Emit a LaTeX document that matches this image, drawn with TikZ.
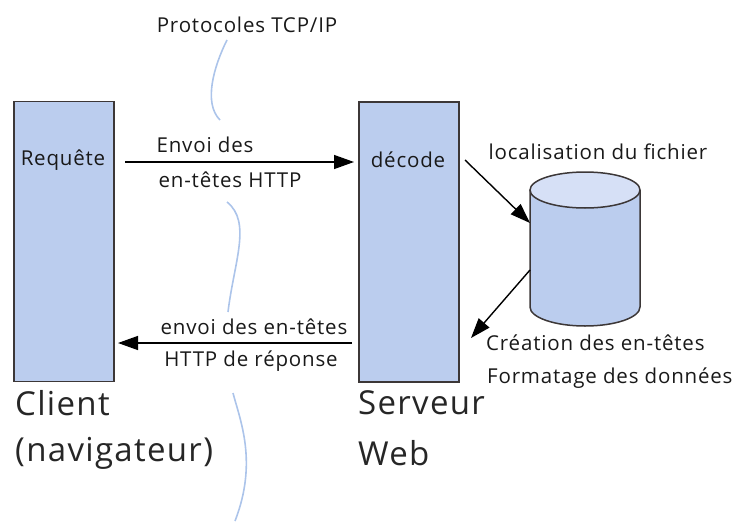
\documentclass[tikz,border=0pt]{standalone}
\usepackage{fontspec}
\setmainfont{Open Sans}[LetterSpace=4]
\usetikzlibrary{arrows.meta}
\definecolor{boxfill}{RGB}{187,205,238}
\definecolor{boxedge}{RGB}{60,55,55}
\definecolor{topfill}{RGB}{214,224,246}
\definecolor{wave}{RGB}{172,196,234}
\tikzset{
  machine/.style={draw=boxedge, line width=1.6pt, fill=boxfill, minimum width=100pt, minimum height=280pt, inner sep=0pt},
  lbl/.style={font=\fontsize{20.5}{22}\selectfont, inner sep=0pt, text=black!90},
  big/.style={font=\fontsize{33}{36}\selectfont, inner sep=0pt, text=black!85, anchor=west},
  flow/.style={line width=1.4pt, -{Triangle[length=20pt,width=14pt]}},
  wavy/.style={wave, line width=1.6pt}
}
\begin{document}
\begin{tikzpicture}[x=1pt,y=-1pt]
\useasboundingbox (0,0) rectangle (744,522);
% machines
\node[machine] (client) at (64,241.5) {};
\node[machine] (server) at (409,242) {};
\node[lbl] (req) at (63,160) {Requête};
\node[lbl] (dec) at (408,160) {décode};
% cylinder
\fill[boxfill] (530,190) -- (530,307) arc[start angle=180,end angle=360,x radius=55pt,y radius=19pt] -- (640,190) -- cycle;
\draw[boxedge, line width=1.5pt] (530,190) -- (530,307) arc[start angle=180,end angle=360,x radius=55pt,y radius=19pt] -- (640,190);
\draw[boxedge, line width=1.5pt, fill=topfill] (585,190) ellipse[x radius=55pt, y radius=18pt];
\coordinate (cylIn) at (530,223);
\coordinate (cylOut) at (530,270);
% arrows
\coordinate (a1s) at (125,162);
\coordinate (a1e) at (354,162);
\coordinate (a2s) at (352,343);
\coordinate (a2e) at (118,343);
\coordinate (d1s) at (465,160);
\coordinate (d2e) at (471,338);
\draw[flow] (a1s) -- (a1e);
\draw[flow] (a2s) -- (a2e);
\draw[flow] (d1s) -- (cylIn);
\draw[flow] (cylOut) -- (d2e);
% labels
\node[lbl] (l1) at (205,145) {Envoi des};
\node[lbl] (l2) at (230,180) {en-têtes HTTP};
\node[lbl] (l3) at (254,327) {envoi des en-têtes};
\node[lbl] (l4) at (251,361) {HTTP de réponse};
\node[lbl] (l5) at (598,152) {localisation du fichier};
\node[lbl, anchor=west] (l6) at (486,343) {Création des en-têtes};
\node[lbl, anchor=west] (l7) at (487,378) {Formatage des données};
\node[lbl] (tcp) at (247,25) {Protocoles TCP/IP};
\node[big] (c1) at (15,403) {Client};
\node[big] (c2) at (15,453) {(navigateur)};
\node[big] (s1) at (358,403) {Serveur};
\node[big] (s2) at (358,453) {Web};
% protocol wave
\draw[wavy] (227,40) .. controls (214,66) and (203,103) .. (220,120);
\draw[wavy] (227,202) .. controls (252,222) and (234,262) .. (228,312);
\draw[wavy] (233,393) .. controls (240,420) and (258,462) .. (235,521);
\end{tikzpicture}
\end{document}
